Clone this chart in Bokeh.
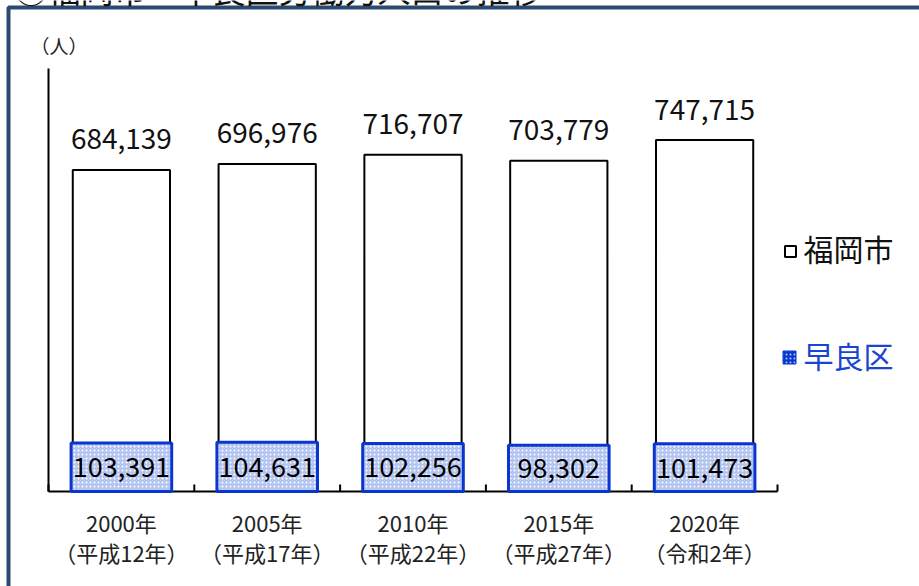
import math
from bokeh.plotting import figure
from bokeh.models import Range1d, Label, ColumnDataSource
from bokeh.core.properties import value
from bokeh.embed import file_html
from bokeh.resources import INLINE

FONT = "Noto Sans CJK JP"

title_text = "②福岡市・早良区労働力人口の推移"
unit_text = "（人）"
years_ad = ["2000年", "2005年", "2010年", "2015年", "2020年"]
years_jp = ["（平成12年）", "（平成17年）", "（平成22年）", "（平成27年）", "（令和2年）"]
fukuoka = [684139, 696976, 716707, 703779, 747715]
sawara = [103391, 104631, 102256, 98302, 101473]
series_names = ["福岡市", "早良区"]

N = len(years_ad)
xs = [i + 0.5 for i in range(N)]
YMAX = 900000

# layout of the plotting area inside the 919x586 canvas (pixels)
W, H = 919, 586
PX_L, PX_R, PX_T, PX_B = 48, 777, 68, 491
sx = (PX_R - PX_L) / N          # pixels per category
sy = (PX_B - PX_T) / YMAX       # pixels per person

def dx(px):
    return (px - PX_L) / sx

def dy(py):
    return (PX_B - py) / sy

src = ColumnDataSource(dict(
    x=xs,
    fukuoka=fukuoka,
    sawara=sawara,
    sawara_mid=[v / 2 for v in sawara],
    f_lab=[f"{v:,}" for v in fukuoka],
    s_lab=[f"{v:,}" for v in sawara],
    ad=years_ad,
    jp=years_jp,
    zero=[0] * N,
))

p = figure(width=W, height=H, output_backend="svg", toolbar_location=None,
           x_range=Range1d(dx(0), dx(W)), y_range=Range1d(dy(H), dy(0)),
           x_axis_location=None, y_axis_location=None, min_border=0)
p.outline_line_color = None
p.grid.visible = False
p.background_fill_color = "white"
p.border_fill_color = "white"

# outer frame (runs off the right and bottom of the window)
p.quad(left=[dx(8)], right=[dx(W + 40)], top=[dy(7)], bottom=[dy(H + 40)],
       fill_color=None, line_color="#2b4a6f", line_width=4)

# axes (drawn from the data extents)
p.segment(x0=[0], y0=[0], x1=[N], y1=[0], line_color="black", line_width=2)
p.segment(x0=[0], y0=[0], x1=[0], y1=[YMAX], line_color="black", line_width=2)
p.ray(x=list(range(N + 1)), y=[0] * (N + 1), length=7, length_units="screen",
      angle=math.pi / 2, line_color="black", line_width=2)

# bars
p.vbar(x="x", top="fukuoka", width=0.667, source=src, fill_color="white",
       line_color="black", line_width=2)
p.vbar(x="x", top="sawara", width=0.69, source=src, fill_color="#b4c4f0",
       line_color="#0a36d0", line_width=3, hatch_pattern="dot", hatch_color="white",
       hatch_scale=4, hatch_weight=1)

# value labels
p.text(x="x", y="fukuoka", text="f_lab", source=src, text_align="center",
       text_baseline="alphabetic", y_offset=-31, text_font=value(FONT),
       text_font_size="28px", text_color="#111111")
p.text(x="x", y="sawara_mid", text="s_lab", source=src, text_align="center",
       text_baseline="middle", text_font=value(FONT),
       text_font_size="27px", text_color="#000000")

# category labels
p.text(x="x", y="zero", text="ad", source=src, text_align="center",
       text_baseline="middle", y_offset=30, text_font=value(FONT),
       text_font_size="22px", text_color="#222222")
p.text(x="x", y="zero", text="jp", source=src, text_align="center",
       text_baseline="middle", y_offset=60, text_font=value(FONT),
       text_font_size="22px", text_color="#222222")

# legend
p.rect(x=[dx(790)], y=[dy(251)], width=11, height=11, width_units="screen",
       height_units="screen", fill_color="white", line_color="black", line_width=2)
p.rect(x=[dx(789)], y=[dy(357)], width=13, height=13, width_units="screen",
       height_units="screen", fill_color="#0a36d0", line_color="#0a36d0", line_width=1,
       hatch_pattern="dot", hatch_color="#b4c4f0", hatch_scale=4, hatch_weight=1)
p.add_layout(Label(x=dx(803), y=dy(247), text=series_names[0], text_font=FONT,
                   text_font_size="30px", text_baseline="middle", text_color="#111111"))
p.add_layout(Label(x=dx(803), y=dy(354), text=series_names[1], text_font=FONT,
                   text_font_size="30px", text_baseline="middle", text_color="#1a45d0"))

# title (partly above the window as in the original) and unit
p.add_layout(Label(x=dx(14), y=dy(-12), text=title_text, text_font=FONT,
                   text_font_size="33px", text_baseline="alphabetic", text_color="#111111"))
p.add_layout(Label(x=dx(30), y=dy(45), text=unit_text, text_font=FONT,
                   text_font_size="19px", text_baseline="middle", text_color="#222222"))

open("out.html", "w").write(file_html(p, INLINE))
